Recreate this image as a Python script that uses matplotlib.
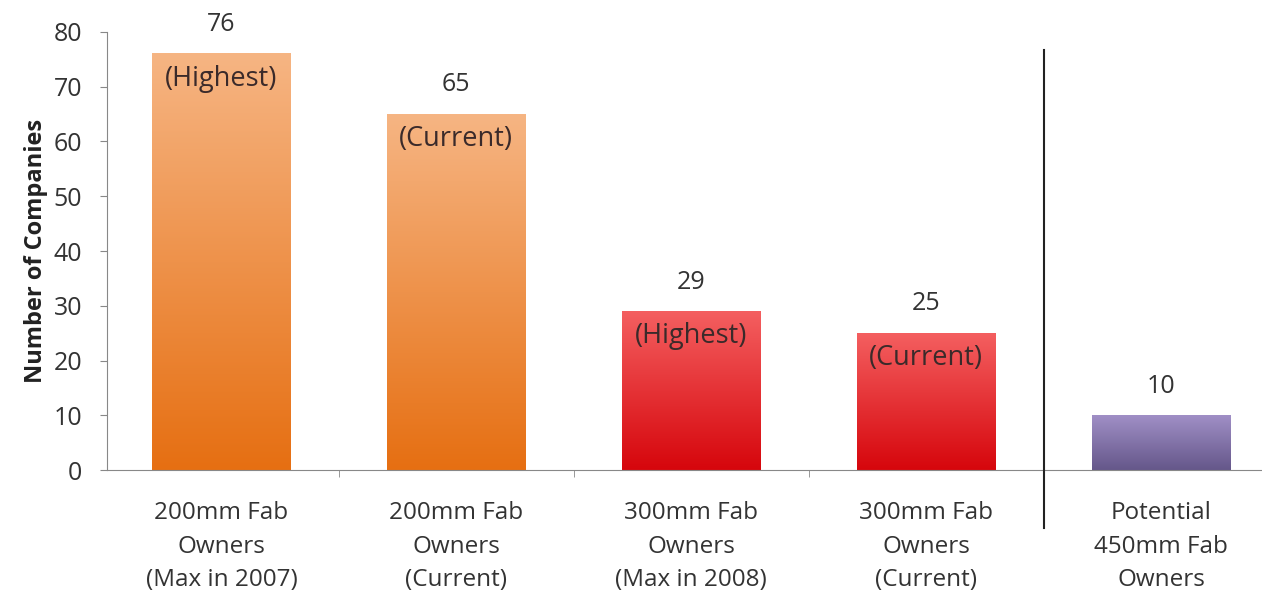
import matplotlib.pyplot as plt
import numpy as np
from matplotlib.colors import LinearSegmentedColormap

plt.rcParams['font.family'] = ['Open Sans', 'DejaVu Sans']

# Data
categories = ["200mm Fab\nOwners\n(Max in 2007)", "200mm Fab\nOwners\n(Current)",
              "300mm Fab\nOwners\n(Max in 2008)", "300mm Fab\nOwners\n(Current)",
              "Potential\n450mm Fab\nOwners"]
values = [76, 65, 29, 25, 10]
notes = ["(Highest)", "(Current)", "(Highest)", "(Current)", ""]

# gradient colours per bar: (bottom, top)
gradients = [("#e66f12", "#f6b583"), ("#e66f12", "#f6b583"),
             ("#d6060c", "#f45f60"), ("#d6060c", "#f45f60"),
             ("#65578a", "#a08fc6")]

fig = plt.figure(figsize=(12.62, 5.92), dpi=100)
ax = fig.add_axes([0.085, 0.206, 0.915, 0.74])

x = np.arange(len(categories))
width = 0.59
bars = ax.bar(x, values, width=width, color="none", edgecolor="none")

# Fill each bar with a vertical gradient
for bar, (c0, c1) in zip(bars, gradients):
    cmap = LinearSegmentedColormap.from_list("g", [c0, c1])
    grad = np.linspace(0, 1, 256).reshape(-1, 1)
    x0, y0 = bar.get_x(), bar.get_y()
    ax.imshow(grad, cmap=cmap, origin="lower", aspect="auto",
              extent=[x0, x0 + bar.get_width(), y0, y0 + bar.get_height()],
              zorder=2)

for xi, v, note in zip(x, values, notes):
    ax.annotate(str(v), (xi, v), xytext=(0, 21), textcoords="offset points",
                ha="center", va="center", fontsize=18, color="#333333")
    if note:
        ax.annotate(note, (xi, v), xytext=(0, -18), textcoords="offset points",
                    ha="center", va="center", fontsize=19.5, color="#3a2a2a", zorder=3)

# separator between current and potential
ax.plot([3.5, 3.5], [-10.5, 76.7], color="#222222", lw=1.5, clip_on=False, zorder=4)

ax.set_xlim(-0.486, 4.43)
ax.set_ylim(0, 80)
ax.set_yticks(range(0, 81, 10))
ax.set_xticks(x)
ax.set_xticklabels(categories, fontsize=17.5, color="#333333", linespacing=1.55)
ax.set_xticks(np.arange(0.5, 4, 1), minor=True)
ax.tick_params(axis="x", which="major", length=0, pad=22)
ax.tick_params(axis="x", which="minor", length=5, color="#888888")
ax.tick_params(axis="y", length=5, color="#888888", labelsize=18, labelcolor="#333333", pad=13)
ax.set_ylabel("Number of Companies", fontsize=17, fontweight="bold", color="#222222", labelpad=4)

for s in ["top", "right"]:
    ax.spines[s].set_visible(False)
for s in ["left", "bottom"]:
    ax.spines[s].set_color("#888888")

fig.savefig("out.png", dpi=100)
